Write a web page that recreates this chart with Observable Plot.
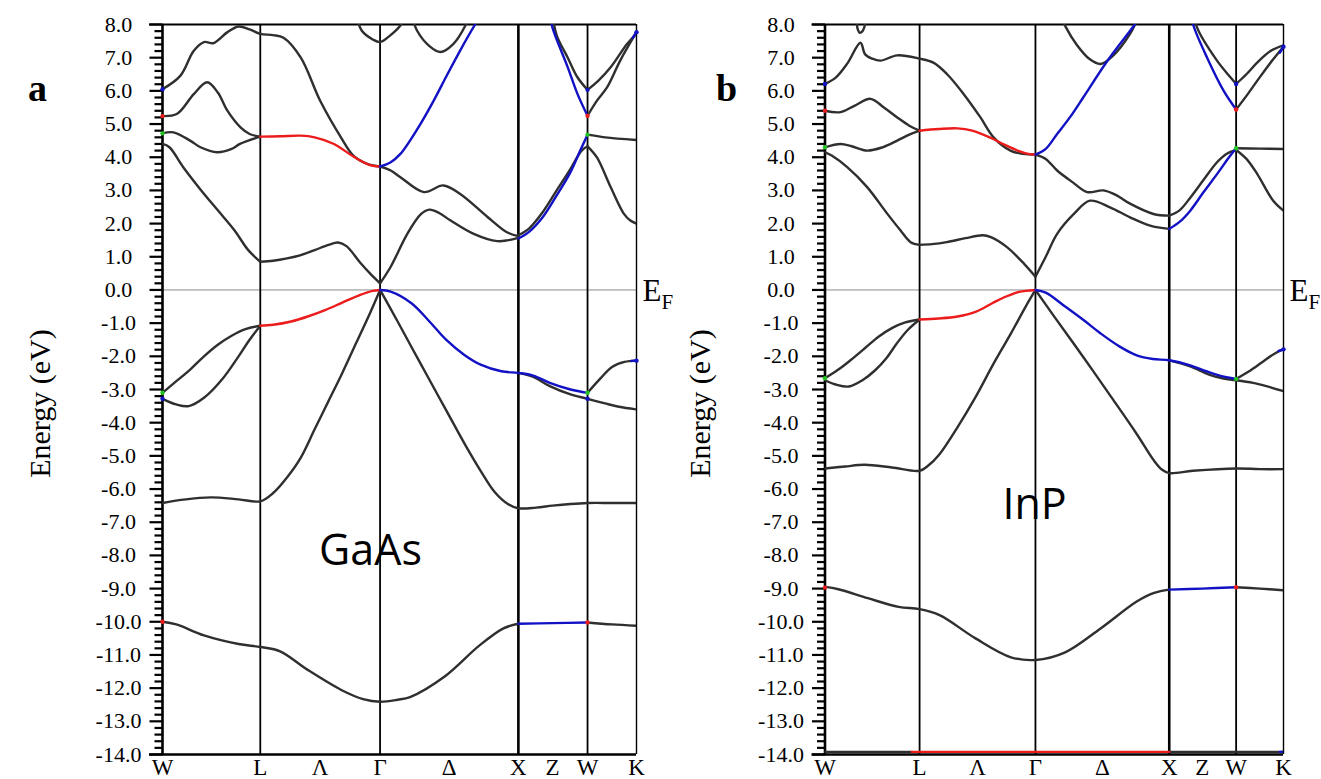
<!DOCTYPE html>
<html><head><meta charset="utf-8">
<script src="https://cdn.jsdelivr.net/npm/d3@7"></script>
<script src="https://cdn.jsdelivr.net/npm/@observablehq/plot@0.6"></script>
<style>
body{margin:0;background:#fff;}
#wrap{position:relative;width:1321px;height:779px;overflow:hidden;background:#fff;}
#wrap svg{position:absolute;top:0;}
</style>
</head><body><div id="wrap"></div>
<script>
// k-path: W, L, Gamma, X, W, K (path length units)
const kNodes = [0, 0.707, 1.573, 2.573, 3.073, 3.427];
const kLabels = ["W", "L", "Λ", "Γ", "Δ", "X", "Z", "W", "K"];
const kLabelPos = [0, 0.707, 1.14, 1.573, 2.073, 2.573, 2.82, 3.073, 3.427];
const yMajor = d3.range(-14, 8.001, 1);
const yTickValues = d3.range(-70, 41, 1).map(i => i / 5); // every 0.2 eV

// ---------- GaAs ----------
const gaasBlack = [
 [[0,-10.0],[0.1,-10.08],[0.3,-10.41],[0.55,-10.67],[0.707,-10.76],[0.85,-10.89],[1.05,-11.45],[1.3,-12.07],[1.45,-12.33],[1.573,-12.41],[1.7,-12.35],[1.79,-12.27],[2.04,-11.65],[2.29,-10.72],[2.465,-10.2],[2.573,-10.06]],
 [[3.073,-10.02],[3.25,-10.08],[3.427,-10.12]],
 [[0,-6.42],[0.15,-6.32],[0.35,-6.25],[0.55,-6.31],[0.707,-6.37],[0.8,-6.12],[0.9,-5.65],[1.0,-5.05],[1.1,-4.2],[1.2,-3.35],[1.3,-2.5],[1.4,-1.6],[1.5,-0.7],[1.573,0]],
 [[1.573,0],[1.7,-0.95],[1.8,-1.72],[1.9,-2.48],[2.0,-3.24],[2.1,-4.0],[2.2,-4.75],[2.3,-5.45],[2.4,-6.08],[2.5,-6.46],[2.573,-6.58],[2.7,-6.56],[2.82,-6.5],[2.95,-6.45],[3.073,-6.42],[3.25,-6.42],[3.427,-6.42]],
 [[0,-3.1],[0.1,-2.75],[0.2,-2.4],[0.3,-2.0],[0.4,-1.65],[0.5,-1.38],[0.6,-1.18],[0.707,-1.08]],
 [[0,-3.28],[0.1,-3.45],[0.19,-3.5],[0.3,-3.25],[0.43,-2.7],[0.55,-2.0],[0.63,-1.5],[0.707,-1.08]],
 [[2.573,-2.5],[2.68,-2.62],[2.8,-2.9],[2.95,-3.15],[3.073,-3.28]],
 [[3.073,-3.28],[3.2,-3.42],[3.3,-3.52],[3.427,-3.6]],
 [[3.073,-3.1],[3.17,-2.65],[3.25,-2.32],[3.34,-2.17],[3.427,-2.13]],
 [[0,4.4],[0.05,4.3],[0.15,3.7],[0.28,3.0],[0.4,2.4],[0.52,1.8],[0.62,1.2],[0.707,0.85]],
 [[0.707,0.85],[0.8,0.88],[0.9,0.95],[1.0,1.05],[1.1,1.2],[1.2,1.36],[1.27,1.43],[1.33,1.32],[1.43,0.82],[1.5,0.5],[1.573,0.2]],
 [[1.573,0.2],[1.65,0.7],[1.77,1.69],[1.87,2.29],[1.93,2.42],[2.0,2.32],[2.08,2.1],[2.25,1.69],[2.42,1.47],[2.5,1.5],[2.573,1.57]],
 [[1.573,3.72],[1.65,3.6],[1.72,3.4],[1.89,2.95],[2.03,3.15],[2.15,2.9],[2.35,2.2],[2.49,1.74],[2.573,1.62]],
 [[2.573,1.65],[2.65,1.85],[2.75,2.35],[2.85,3.0],[2.95,3.65],[3.03,4.2],[3.073,4.33]],
 [[3.073,4.33],[3.14,4.0],[3.24,3.1],[3.335,2.3],[3.38,2.1],[3.427,2.0]],
 [[3.073,4.68],[3.2,4.6],[3.427,4.52]],
 [[0,5.24],[0.106,5.31],[0.226,5.9],[0.323,6.26],[0.4,5.95],[0.468,5.41],[0.564,4.9],[0.63,4.7],[0.707,4.62]],
 [[0,4.72],[0.08,4.75],[0.2,4.5],[0.275,4.3],[0.395,4.15],[0.5,4.25],[0.56,4.4],[0.707,4.62]],
 [[0,6.05],[0.13,6.46],[0.225,7.2],[0.30,7.47],[0.37,7.44],[0.47,7.77],[0.55,7.94],[0.63,7.85],[0.707,7.72],[0.8,7.68],[0.875,7.6],[1.0,7.0],[1.14,5.7],[1.29,4.6],[1.38,4.05],[1.48,3.8],[1.573,3.72]],
 [[1.40,8.3],[1.44,7.82],[1.52,7.55],[1.573,7.47],[1.64,7.65],[1.72,7.97],[1.76,8.3]],
 [[1.80,8.3],[1.84,7.82],[1.93,7.35],[2.01,7.17],[2.1,7.4],[2.19,7.97],[2.22,8.3]],
 [[2.82,8.3],[2.85,7.67],[2.93,7.0],[3.0,6.41],[3.073,6.03]],
 [[3.073,6.03],[3.15,6.3],[3.24,6.71],[3.36,7.42],[3.427,7.72]],
 [[3.073,5.25],[3.14,5.7],[3.215,6.11],[3.31,6.92],[3.427,7.77]]
];
const gaasRed = [
 [[0.707,-1.08],[0.8,-1.05],[0.93,-0.95],[1.05,-0.8],[1.18,-0.6],[1.3,-0.38],[1.43,-0.15],[1.52,-0.03],[1.573,0]],
 [[0.707,4.62],[0.85,4.63],[1.0,4.65],[1.1,4.6],[1.24,4.4],[1.38,4.02],[1.5,3.76],[1.573,3.72]]
];
const gaasBlue = [
 [[1.573,0],[1.65,-0.05],[1.8,-0.4],[1.93,-0.95],[2.05,-1.5],[2.18,-1.95],[2.3,-2.25],[2.45,-2.45],[2.573,-2.5],[2.68,-2.58],[2.8,-2.8],[2.95,-3.0],[3.073,-3.1]],
 [[2.573,-10.06],[2.82,-10.04],[3.073,-10.02]],
 [[2.573,1.55],[2.65,1.75],[2.75,2.2],[2.85,2.85],[2.95,3.55],[3.02,4.2],[3.073,4.68]],
 [[1.573,3.72],[1.65,3.85],[1.72,4.1],[1.85,4.9],[1.96,5.7],[2.06,6.5],[2.15,7.2],[2.26,8.0],[2.35,8.6]],
 [[2.80,8.3],[2.82,7.9],[2.93,6.71],[3.0,5.91],[3.073,5.25]],
 [[3.39,-2.14],[3.427,-2.13]],
 [[3.40,7.6],[3.427,7.77]]
];
const gaasRedDots = [[0,5.24],[0,-10.0],[3.073,5.25],[3.073,-10.02]];
const gaasBlueDots = [[0,6.05],[0,-3.28],[3.073,6.03],[3.073,-3.28],[3.427,7.77],[3.427,-2.13]];
const gaasGreenDots = [[0,4.72],[0,-3.1],[3.073,4.68],[3.073,-3.1]];

// ---------- InP ----------
const inpBlack = [
 [[0,-8.95],[0.1,-9.02],[0.32,-9.29],[0.55,-9.55],[0.707,-9.62],[0.856,-9.8],[1.125,-10.5],[1.39,-11.07],[1.573,-11.15],[1.795,-10.92],[2.06,-10.2],[2.33,-9.39],[2.46,-9.13],[2.573,-9.03]],
 [[3.073,-8.96],[3.25,-9.0],[3.427,-9.05]],
 [[0,-5.38],[0.15,-5.32],[0.295,-5.27],[0.5,-5.35],[0.707,-5.45],[0.77,-5.3],[0.856,-4.95],[0.99,-4.14],[1.125,-3.23],[1.26,-2.22],[1.39,-1.31],[1.5,-0.5],[1.573,0]],
 [[1.573,0],[1.715,-0.81],[1.93,-2.02],[2.14,-3.23],[2.33,-4.34],[2.46,-5.15],[2.52,-5.42],[2.573,-5.52],[2.75,-5.45],[3.073,-5.38],[3.25,-5.4],[3.427,-5.4]],
 [[0,-2.66],[0.1,-2.4],[0.19,-2.12],[0.3,-1.75],[0.4,-1.41],[0.5,-1.15],[0.6,-0.98],[0.707,-0.89]],
 [[0,-2.72],[0.08,-2.85],[0.18,-2.91],[0.28,-2.72],[0.375,-2.42],[0.46,-2.05],[0.535,-1.62],[0.62,-1.2],[0.707,-0.89]],
 [[2.573,-2.12],[2.73,-2.3],[2.87,-2.55],[2.97,-2.66],[3.073,-2.72]],
 [[3.073,-2.68],[3.17,-2.45],[3.27,-2.17],[3.36,-1.92],[3.427,-1.79]],
 [[3.073,-2.72],[3.2,-2.8],[3.3,-2.9],[3.427,-3.05]],
 [[0,-13.92],[0.65,-13.92]],
 [[2.573,-13.92],[3.427,-13.92]],
 [[0,4.15],[0.05,4.05],[0.166,3.7],[0.315,3.1],[0.465,2.3],[0.565,1.79],[0.64,1.44],[0.707,1.36]],
 [[0.707,1.36],[0.8,1.38],[0.91,1.44],[1.05,1.56],[1.18,1.65],[1.24,1.59],[1.36,1.29],[1.49,0.78],[1.573,0.4]],
 [[1.573,0.4],[1.65,1.0],[1.735,1.69],[1.86,2.29],[1.98,2.69],[2.13,2.49],[2.28,2.19],[2.43,1.94],[2.573,1.84]],
 [[1.573,4.08],[1.65,3.95],[1.735,3.6],[1.85,3.25],[1.96,2.95],[2.08,3.0],[2.18,2.85],[2.28,2.6],[2.455,2.29],[2.573,2.24]],
 [[2.573,2.24],[2.65,2.4],[2.73,2.78],[2.83,3.32],[2.93,3.85],[3.0,4.1],[3.073,4.22]],
 [[3.073,4.22],[3.15,3.95],[3.23,3.5],[3.35,2.69],[3.427,2.39]],
 [[3.073,4.27],[3.25,4.26],[3.427,4.25]],
 [[0,5.4],[0.116,5.36],[0.22,5.55],[0.34,5.76],[0.44,5.5],[0.54,5.2],[0.63,4.95],[0.707,4.8]],
 [[0,4.3],[0.116,4.4],[0.2,4.33],[0.315,4.2],[0.43,4.3],[0.54,4.5],[0.63,4.68],[0.707,4.8]],
 [[0,6.21],[0.08,6.4],[0.166,6.82],[0.265,7.45],[0.3,7.1],[0.353,6.97],[0.415,6.91],[0.54,7.07],[0.707,6.97],[0.81,6.85],[0.913,6.5],[1.037,5.9],[1.162,5.2],[1.26,4.6],[1.386,4.2],[1.48,4.1],[1.573,4.08]],
 [[0.235,8.2],[0.245,7.85],[0.26,7.75],[0.28,7.8],[0.30,8.0],[0.31,8.2]],
 [[1.76,8.3],[1.80,7.92],[1.88,7.4],[1.98,6.95],[2.06,6.81],[2.15,7.05],[2.28,7.72],[2.34,8.2]],
 [[2.76,8.4],[2.78,7.92],[2.93,6.91],[3.03,6.41],[3.073,6.21]],
 [[3.073,6.21],[3.15,6.5],[3.23,6.85],[3.33,7.2],[3.427,7.37]],
 [[3.073,5.44],[3.15,5.85],[3.23,6.3],[3.33,6.85],[3.427,7.33]]
];
const inpRed = [
 [[0.707,-0.89],[0.85,-0.86],[0.99,-0.8],[1.125,-0.66],[1.25,-0.4],[1.34,-0.22],[1.45,-0.06],[1.573,0]],
 [[0.707,4.8],[0.85,4.85],[0.99,4.87],[1.1,4.8],[1.24,4.58],[1.34,4.38],[1.44,4.2],[1.52,4.1],[1.573,4.08]],
 [[0.65,-13.92],[2.573,-13.92]]
];
const inpBlue = [
 [[1.573,0],[1.65,-0.08],[1.795,-0.5],[1.93,-0.9],[2.06,-1.31],[2.2,-1.7],[2.33,-1.97],[2.45,-2.08],[2.573,-2.12],[2.73,-2.27],[2.85,-2.45],[2.95,-2.58],[3.073,-2.68]],
 [[2.573,-9.03],[2.82,-9.0],[3.073,-8.96]],
 [[2.573,1.84],[2.65,2.05],[2.73,2.39],[2.83,2.95],[2.93,3.49],[3.02,4.0],[3.073,4.27]],
 [[1.573,4.08],[1.65,4.25],[1.735,4.7],[1.83,5.2],[1.93,5.8],[2.11,6.9],[2.31,7.97],[2.4,8.5]],
 [[2.74,8.3],[2.754,7.97],[2.856,7.0],[2.98,6.0],[3.073,5.44]],
 [[3.39,-1.84],[3.427,-1.79]],
 [[3.40,7.15],[3.427,7.33]],
 [[3.40,-13.92],[3.427,-13.92]]
];
const inpRedDots = [[0,5.4],[0,-8.97],[3.073,5.44],[3.073,-8.96]];
const inpBlueDots = [[0,6.21],[3.073,6.21],[3.427,7.33],[3.427,-1.79]];
const inpGreenDots = [[0,4.3],[0,-2.66],[3.073,4.27],[3.073,-2.68]];

const C_BLACK = "#2f2f2f", C_RED = "#ec1c1c", C_BLUE = "#1212c4", C_GREEN = "#22c422";
const SERIF = "'Liberation Serif', 'Times New Roman', serif";

function rows(bands) {
  return bands.flatMap((b, i) => b.map(([k, E]) => ({k, E, id: i})));
}
function pts(list) { return list.map(([k, E]) => ({k, E})); }

function panel(cfg) {
  const plotW = cfg.width - cfg.marginLeft - cfg.marginRight;
  const pxToK = 3.427 / plotW; // tick lengths expressed through the x scale
  const ticks = yTickValues.map(v => ({v, major: Number.isInteger(v)}));
  const lineOpts = (color) => ({x: "k", y: "E", z: "id", stroke: color, strokeWidth: 2.4, curve: "catmull-rom", clip: true});
  return Plot.plot({
    width: cfg.width, height: 779,
    marginLeft: cfg.marginLeft, marginRight: cfg.marginRight, marginTop: 24, marginBottom: 25,
    x: {domain: [0, 3.427], axis: null},
    y: {domain: [-14, 8], axis: null},
    style: {fontFamily: SERIF, background: "white", color: "black", overflow: "visible"},
    marks: [
      Plot.ruleY([0], {stroke: "#8a8a8a", strokeWidth: 1}),
      Plot.ruleX(kNodes, {stroke: "black", strokeWidth: (d, i) => (i === 0 ? 2.6 : i === 3 ? 2.6 : i === 5 ? 1.4 : 1.8)}),
      Plot.ruleY([8], {x1: -13 * pxToK, x2: 3.427, stroke: "black", strokeWidth: 2.2}),
      Plot.ruleY([-14], {x1: -13 * pxToK, x2: 3.427, stroke: "black", strokeWidth: 2.6}),
      Plot.link(ticks, {x1: d => (d.major ? -13 : -8) * pxToK, x2: () => 0, y1: "v", y2: "v", stroke: "black", strokeWidth: 2.2}),
      Plot.text(yMajor, {y: d => d, text: d => d.toFixed(1), frameAnchor: "left", dx: -44, textAnchor: "middle", fontSize: 22, fill: "black"}),
      Plot.line(rows(cfg.black), lineOpts(C_BLACK)),
      Plot.line(rows(cfg.red), lineOpts(C_RED)),
      Plot.line(rows(cfg.blue), lineOpts(C_BLUE)),
      Plot.dot(pts(cfg.redDots), {x: "k", y: "E", r: 2.2, fill: C_RED, stroke: "none"}),
      Plot.dot(pts(cfg.blueDots), {x: "k", y: "E", r: 2.2, fill: C_BLUE, stroke: "none"}),
      Plot.dot(pts(cfg.greenDots), {x: "k", y: "E", r: 2.2, fill: C_GREEN, stroke: "none"}),
      Plot.text(kLabels.map((t, i) => ({k: kLabelPos[i], t})), {x: "k", text: "t", frameAnchor: "bottom", lineAnchor: "top", dy: 4, fontSize: 23, fill: "black"}),
      Plot.text(["Energy (eV)"], {text: d => d, frameAnchor: "left", dx: cfg.labelDx, dy: 14, rotate: -90, fontSize: 30, fill: "black", textAnchor: "middle"}),
      Plot.text([cfg.letter], {text: d => d, frameAnchor: "top-left", dx: cfg.letterDx, dy: 76, lineAnchor: "bottom", textAnchor: "middle", fontWeight: "bold", fontSize: 38, fill: "black"}),
      Plot.text([{k: kNodes[5], E: 0}], {x: "k", y: "E", text: () => "E", dx: 6, dy: 11, lineAnchor: "bottom", textAnchor: "start", fontSize: 31, fill: "black"}),
      Plot.text([{k: kNodes[5], E: 0}], {x: "k", y: "E", text: () => "F", dx: 25, dy: 19, lineAnchor: "bottom", textAnchor: "start", fontSize: 21, fill: "black"}),
      Plot.text([cfg.name], {x: () => cfg.nameK, y: () => cfg.nameE, text: d => d, lineAnchor: "bottom", textAnchor: "middle", fontFamily: "'Open Sans', 'Noto Sans', sans-serif", fontSize: 43, fill: "black"})
    ]
  });
}

const wrap = document.getElementById("wrap");
const a = panel({width: 680, marginLeft: 162, marginRight: 44, black: gaasBlack, red: gaasRed, blue: gaasBlue,
  redDots: gaasRedDots, blueDots: gaasBlueDots, greenDots: gaasGreenDots,
  labelDx: -122, letter: "a", letterDx: -125, name: "GaAs", nameK: 1.504, nameE: -8.3});
a.style.left = "0px";
wrap.appendChild(a);
const b = panel({width: 641, marginLeft: 144.5, marginRight: 38, black: inpBlack, red: inpRed, blue: inpBlue,
  redDots: inpRedDots, blueDots: inpBlueDots, greenDots: inpGreenDots,
  labelDx: -124.5, letter: "b", letterDx: -98.5, name: "InP", nameK: 1.566, nameE: -6.89});
b.style.left = "680px";
wrap.appendChild(b);
</script>
</body></html>
